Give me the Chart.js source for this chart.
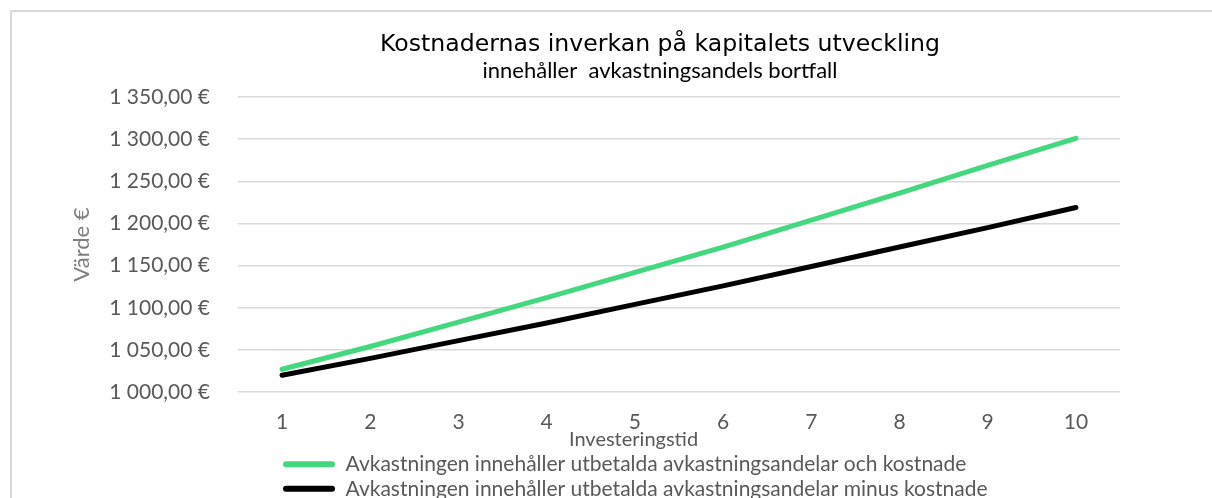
<!DOCTYPE html>
<html lang="sv">
<head>
<meta charset="utf-8">
<title>Kostnadernas inverkan</title>
<script src="https://cdn.jsdelivr.net/npm/chart.js@4.4.1/dist/chart.umd.min.js"></script>
<style>
  html, body { margin: 0; padding: 0; background: #fff; overflow: hidden; }
  body { width: 1212px; height: 498px; position: relative; }
  /* light grey chart frame, only left and top edges are visible in the crop */
  .frame { position: absolute; left: 10px; top: 10px; width: 1220px; height: 500px;
           border-left: 2px solid #d9d9d9; border-top: 2px solid #d9d9d9; }
  #wrap { position: absolute; left: 0; top: 0; width: 1212px; height: 509.25px; }
</style>
</head>
<body>
<div class="frame"></div>
<div id="wrap"><canvas id="chart"></canvas></div>
<script>
const TITLE = "Kostnadernas inverkan på kapitalets utveckling";
const SUBTITLE = "innehåller  avkastningsandels bortfall";
const X_TITLE = "Investeringstid";
const Y_TITLE = "Värde €";

const years = ["1", "2", "3", "4", "5", "6", "7", "8", "9", "10"];
const withCosts = [1027, 1054, 1083, 1112, 1142, 1172, 1204, 1236, 1269, 1301];
const minusCosts = [1020, 1040, 1061, 1082, 1104, 1126, 1149, 1172, 1195, 1219];
const seriesNames = [
  "Avkastningen innehåller utbetalda avkastningsandelar och kostnade",
  "Avkastningen innehåller utbetalda avkastningsandelar minus kostnade",
];
const yMin = 1000, yMax = 1350, yStep = 50;

const FONT = "Lato, 'Open Sans', sans-serif";
const GREY = "#595959";

// "1 350,00 €" style (Swedish number format)
function fmtEuro(v) {
  const [int, dec] = v.toFixed(2).split(".");
  return int.replace(/\B(?=(\d{3})+(?!\d))/g, " ") + "," + dec + " €";
}

// Excel centres the title over a different span than the legend, which is
// left-aligned; move those boxes after Chart.js has laid them out.
const placeBoxes = {
  id: "placeBoxes",
  afterLayout(chart) {
    const lg = chart.legend;
    lg.left = 279.5; lg.right = 1212; lg.width = lg.right - lg.left;
    for (const b of chart.boxes) {
      if (b.options && (b.options.text === TITLE || b.options.text === SUBTITLE)) {
        b.left = 200; b.right = 1120; b.width = 920;
      }
    }
  },
};

new Chart(document.getElementById("chart"), {
  type: "line",
  data: {
    labels: years,
    datasets: [
      { label: seriesNames[0], data: withCosts, borderColor: "#43d77e", backgroundColor: "#43d77e", order: 1 },
      { label: seriesNames[1], data: minusCosts, borderColor: "#000000", backgroundColor: "#000000", order: 0 },
    ],
  },
  options: {
    responsive: true,
    maintainAspectRatio: false,
    animation: false,
    layout: { padding: { left: 60, right: 92, top: 0, bottom: 0 } },
    elements: {
      line: { borderWidth: 5, borderCapStyle: "round", borderJoinStyle: "round", tension: 0 },
      point: { radius: 0, hoverRadius: 0 },
    },
    plugins: {
      title: {
        display: true, text: TITLE, color: "#000",
        font: { family: "'DejaVu Sans', sans-serif", size: 23.6, weight: "normal", lineHeight: 1.17 },
        padding: { top: 31, bottom: 0 },
      },
      subtitle: {
        display: true, text: SUBTITLE, color: "#000",
        font: { family: FONT, size: 22, weight: "normal", lineHeight: 1 },
        padding: { top: 1, bottom: 15.4 },
      },
      legend: {
        position: "bottom", align: "start",
        // the x axis caption sits centred right above the legend rows in the original
        title: {
          display: true, text: X_TITLE, position: "center", color: GREY,
          font: { family: FONT, size: 20, lineHeight: 1 },
          padding: { top: 0, bottom: 1 },
        },
        labels: {
          color: GREY, font: { family: FONT, size: 21 },
          boxWidth: 52, boxHeight: 6, padding: 3.5,
          useBorderRadius: true, borderRadius: 3,
          sort: (a, b) => a.datasetIndex - b.datasetIndex,
          generateLabels: (chart) =>
            Chart.defaults.plugins.legend.labels.generateLabels(chart).map((l) => ({ ...l, lineWidth: 0 })),
        },
      },
      tooltip: { enabled: false },
    },
    scales: {
      x: {
        offset: true,
        grid: { display: false, drawTicks: false },
        border: { display: false },
        ticks: { color: GREY, font: { family: FONT, size: 21 }, padding: 18, maxRotation: 0 },
        afterFit: (s) => { s.height = 37.25; },
      },
      y: {
        min: yMin, max: yMax,
        grid: { color: "#d9d9d9", lineWidth: 1.5, drawTicks: false },
        border: { display: false },
        ticks: { stepSize: yStep, color: GREY, font: { family: FONT, size: 21 }, padding: 28, callback: (v) => fmtEuro(v) },
        title: { display: true, text: Y_TITLE, color: "#7f7f7f", font: { family: FONT, size: 22 }, padding: { top: 8.8, bottom: 0 } },
        afterFit: (s) => { s.width = 178; },
      },
    },
  },
  plugins: [placeBoxes],
});
</script>
</body>
</html>
